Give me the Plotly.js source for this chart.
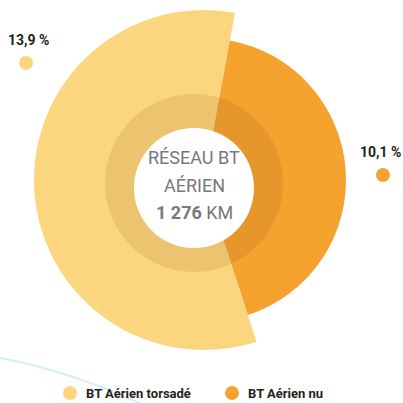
<!DOCTYPE html>
<html>
<head>
<meta charset="utf-8">
<script src="https://cdn.plot.ly/plotly-3.0.1.min.js"></script>
<style>html,body{margin:0;padding:0;background:#fff;}#chart{width:403px;height:403px;}</style>
</head>
<body>
<div id="chart"></div>
<script>
// ---- data ----
const categories = ["BT Aérien torsadé", "BT Aérien nu"];
const shares = [13.9, 10.1];
const shareLabels = ["13,9 %", "10,1 %"];
const colors = ["#fcd67e", "#f5a22e"];
const centerLines = ["RÉSEAU BT", "AÉRIEN", "<b>1 276</b> KM"];

// ---- layout helpers (pixel space, 403x403) ----
const W = 403, H = 403;
const C = {x: 204, y: 180};
const radii = [170, 142];
function domainFor(cx, cy, r) {
  return {x: [(cx - r) / W, (cx + r) / W], y: [1 - (cy + r) / H, 1 - (cy - r) / H]};
}
const FONT = "Roboto, 'Liberation Sans Narrow', sans-serif";

const traces = categories.map((c, i) => ({
  type: "pie",
  labels: categories,
  values: shares,
  sort: false,
  direction: "clockwise",
  rotation: 162,
  hole: 0,
  textinfo: "none",
  hoverinfo: "label+value",
  showlegend: false,
  marker: {colors: colors.map((col, j) => j === i ? col : "rgba(0,0,0,0)"), line: {width: 0}},
  domain: domainFor(C.x, C.y, radii[i])
}));

const shapes = [
  // decorative light curve
  {type: "path", xref: "x", yref: "y", layer: "below", path: "M -5 357 Q 70 370 150 408",
   line: {color: "#d6eef1", width: 2}},
  // shaded inner ring
  {type: "circle", xref: "x", yref: "y", layer: "above", x0: 105, x1: 283, y0: 94, y1: 272,
   fillcolor: "rgba(130,80,20,0.13)", line: {width: 0}},
  // white centre
  {type: "circle", xref: "x", yref: "y", layer: "above", x0: 134, x1: 254, y0: 128, y1: 248,
   fillcolor: "#ffffff", line: {width: 0}},
];

const labelPos = [{x: 28, y: 40, anchor: "center", dx: 26, dy: 63}, {x: 403, y: 152, anchor: "right", dx: 383, dy: 175}];
const legendPos = [{dx: 70, tx: 84}, {dx: 232, tx: 246}];
const annotations = [];

categories.forEach((c, i) => {
  const p = labelPos[i];
  shapes.push({type: "circle", xref: "x", yref: "y", layer: "above",
    x0: p.dx - 7, x1: p.dx + 7, y0: p.dy - 7, y1: p.dy + 7, fillcolor: colors[i], line: {width: 0}});
  annotations.push({xref: "x", yref: "y", x: p.x, y: p.y, text: "<b>" + shareLabels[i] + "</b>",
    showarrow: false, font: {family: FONT, size: 14, color: "#231f20"}, xanchor: p.anchor, yanchor: "middle"});
  const l = legendPos[i];
  shapes.push({type: "circle", xref: "x", yref: "y", layer: "above",
    x0: l.dx - 7, x1: l.dx + 7, y0: 393 - 7, y1: 393 + 7, fillcolor: colors[i], line: {width: 0}});
  annotations.push({xref: "x", yref: "y", x: l.tx, y: 393, text: "<b>" + c + "</b>",
    showarrow: false, font: {family: FONT, size: 13, color: "#231f20"}, xanchor: "left", yanchor: "middle"});
});

const lineY = [157, 185, 212];
centerLines.forEach((t, i) => {
  annotations.push({xref: "x", yref: "y", x: 194, y: lineY[i], text: t,
    showarrow: false, align: "center", xanchor: "center", yanchor: "middle",
    font: {family: FONT, size: 18, color: "#77787b"}});
});

const layout = {
  width: W, height: H,
  margin: {l: 0, r: 0, t: 0, b: 0, pad: 0},
  paper_bgcolor: "#ffffff", plot_bgcolor: "rgba(0,0,0,0)",
  showlegend: false,
  xaxis: {range: [0, W], visible: false, fixedrange: true},
  yaxis: {range: [H, 0], visible: false, fixedrange: true},
  shapes: shapes,
  annotations: annotations
};

Plotly.newPlot("chart", traces, layout, {displayModeBar: false, staticPlot: true});
</script>
</body>
</html>
